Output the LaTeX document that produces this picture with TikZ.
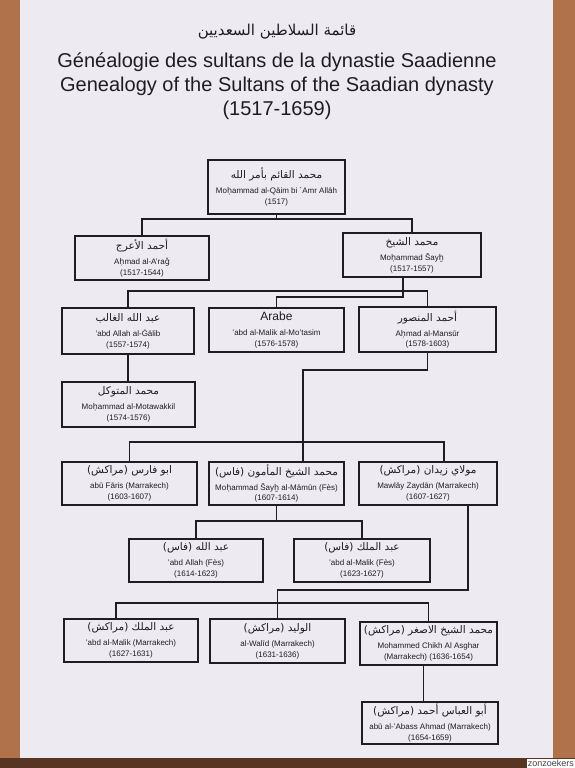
\documentclass[tikz,border=0pt]{standalone}
\usepackage{fontspec}
\setmainfont{Liberation Sans}
\newfontfamily\arfont[Script=Arabic]{DejaVu Sans}
\newfontfamily\dvfont{DejaVu Sans}
\TeXXeTstate=1
\usetikzlibrary{calc}
\definecolor{board}{RGB}{237,235,241}
\definecolor{wall}{RGB}{176,114,74}
\definecolor{wallshade}{RGB}{88,52,34}
\definecolor{ink}{RGB}{30,30,34}
\tikzset{
  sultan/.style={draw=ink, line width=1.8pt, align=center, inner sep=2pt,
    minimum width=135pt, minimum height=44pt, text=ink,
    font=\fontsize{8}{10.6}\selectfont},
  link/.style={draw=ink, line width=1.8pt},
  heading/.style={font=\fontsize{20}{20}\selectfont, text=ink, anchor=base}
}
\newcommand\ar[1]{{\arfont\fontsize{10.5}{10.5}\selectfont\beginR #1\endR}}
\newcommand\reign[3]{#1\\[4.5pt]#2\\#3}
\newcommand\hdot{{\dvfont ḥ}}
\newcommand\hbrv{{\dvfont ḫ}}
\newcommand\gcar{{\dvfont ǧ}}

\begin{document}
\begin{tikzpicture}[x=1pt, y=-1pt]
  \useasboundingbox (0,0) rectangle (575,768);
  % wall and board
  \fill[wall] (0,0) rectangle (575,768);
  \fill[wallshade] (0,758) rectangle (575,768);
  \fill[board] (20,0) rectangle (553,758);

  % headings
  \node[font=\arfont\fontsize{15}{15}\selectfont, text=ink, anchor=base] (titlear) at (277,36) {\beginR قائمة السلاطين السعديين\endR};
  \node[heading] (titlefr) at (277,67) {Généalogie des sultans de la dynastie Saadienne};
  \node[heading] (titleen) at (277,91) {Genealogy of the Sultans of the Saadian dynasty};
  \node[heading] (titleyr) at (277,115) {(1517-1659)};

  % sultans
  \node[sultan, minimum width=137pt, minimum height=54pt] (qaim) at (276.5,187) {\reign{\ar{محمد القائم بأمر الله}}{Mo\hdot ammad al-Qāim bi ´Amr Allāh}{(1517)}};
  \node[sultan, minimum width=134pt] (araj) at (142,258) {\reign{\ar{أحمد الأعرج}}{A\hdot mad al-A’ra\gcar}{(1517-1544)}};
  \node[sultan, minimum width=138pt] (shaykh) at (412,255) {\reign{\ar{محمد الشيخ}}{Mo\hdot ammad Šay\hbrv}{(1517-1557)}};
  \node[sultan, minimum width=132pt, minimum height=46pt] (ghalib) at (128,331) {\reign{\ar{عبد الله الغالب}}{’abd Allah al-Ġālib}{(1557-1574)}};
  \node[sultan] (motasim) at (276.5,330) {\reign{{\fontsize{12}{12}\selectfont Arabe}}{’abd al-Malik al-Mo’tasim}{(1576-1578)}};
  \node[sultan, minimum width=137pt, minimum height=45pt] (mansur) at (427.5,329.5) {\reign{\ar{أحمد المنصور}}{A\hdot mad al-Mansūr}{(1578-1603)}};
  \node[sultan, minimum width=133pt, minimum height=45pt] (motawakkil) at (128.5,404.5) {\reign{\ar{محمد المتوكل}}{Mo\hdot ammad al-Motawakkil}{(1574-1576)}};
  \node[sultan, minimum height=43pt] (faris) at (129.5,483.5) {\reign{\ar{ابو فارس (مراكش)}}{abū Fāris (Marrakech)}{(1603-1607)}};
  \node[sultan, minimum height=43pt] (mamun) at (276.5,483.5) {\reign{\ar{محمد الشيخ المأمون (فاس)}}{Mo\hdot ammad Šay\hbrv\ al-Māmūn (Fès)}{(1607-1614)}};
  \node[sultan, minimum width=138pt, minimum height=43pt] (zaydan) at (428,483.5) {\reign{\ar{مولاي زيدان (مراكش)}}{Mawlāy Zaydān (Marrakech)}{(1607-1627)}};
  \node[sultan, minimum width=134pt, minimum height=43pt] (abdallah) at (196,560.5) {\reign{\ar{عبد الله (فاس)}}{’abd Allah (Fès)}{(1614-1623)}};
  \node[sultan, minimum width=136pt, minimum height=43pt] (malikfes) at (362,560.5) {\reign{\ar{عبد الملك (فاس)}}{’abd al-Malik (Fès)}{(1623-1627)}};
  \node[sultan, minimum width=134pt, minimum height=43pt] (malikmar) at (131,640.5) {\reign{\ar{عبد الملك (مراكش)}}{’abd al-Malik (Marrakech)}{(1627-1631)}};
  \node[sultan] (walid) at (277.5,641) {\reign{\ar{الوليد (مراكش)}}{al-Walīd (Marrakech)}{(1631-1636)}};
  \node[sultan, minimum width=137pt, minimum height=43pt] (asghar) at (428.5,643.5) {\reign{\ar{محمد الشيخ الاصغر (مراكش)}}{Mohammed Chikh Al Asghar}{(Marrakech) (1636-1654)}};
  \node[sultan, minimum width=136pt, minimum height=42pt] (abbas) at (430,723) {\reign{\ar{أبو العباس أحمد (مراكش)}}{abū al-’Abass Ahmad (Marrakech)}{(1654-1659)}};

  % off-centre line ends
  \coordinate (shaykhOut) at ([xshift=-9pt]shaykh.south);
  \coordinate (mamunIn) at ([xshift=26.5pt]mamun.north);
  \coordinate (zaydanIn) at ([xshift=16pt]zaydan.north);
  \coordinate (zaydanOut) at ([xshift=40pt]zaydan.south);
  \coordinate (malikIn) at ([xshift=-15pt]malikmar.north);
  \coordinate (asgharOut) at ([xshift=-5pt]asghar.south);

  % lines of descent
  \draw[link] (qaim.south) -- ++(0,4) -| (araj.north);
  \draw[link] (qaim.south) -- ++(0,4) -| (shaykh.north);
  \draw[link] (ghalib.north) |- (mansur.north |- 0,291) -- (mansur.north);
  \draw[link] (shaykhOut) |- (motasim.north |- 0,297) -- (motasim.north);
  \draw[link] (ghalib.south) -- (ghalib.south |- motawakkil.north);
  \draw[link] (mansur.south) -- ++(0,17) -| (mamunIn);
  \draw[link] (faris.north) |- (zaydanIn |- 0,442) -- (zaydanIn);
  \draw[link] (mamun.south) -- ++(0,15) -| (abdallah.north);
  \draw[link] (mamun.south) -- ++(0,15) -| (malikfes.north);
  \draw[link] (zaydanOut) |- (walid.north |- 0,590) -- (walid.north);
  \draw[link] (malikIn) |- (asghar.north |- 0,603) -- (asghar.north);
  \draw[link] (asgharOut) -- (asgharOut |- abbas.north);

  \node[fill=white, inner sep=1pt, anchor=south east, text=black!75, font=\fontsize{9}{9}\selectfont] (stamp) at (575,768) {zonzoekers};
\end{tikzpicture}
\end{document}
